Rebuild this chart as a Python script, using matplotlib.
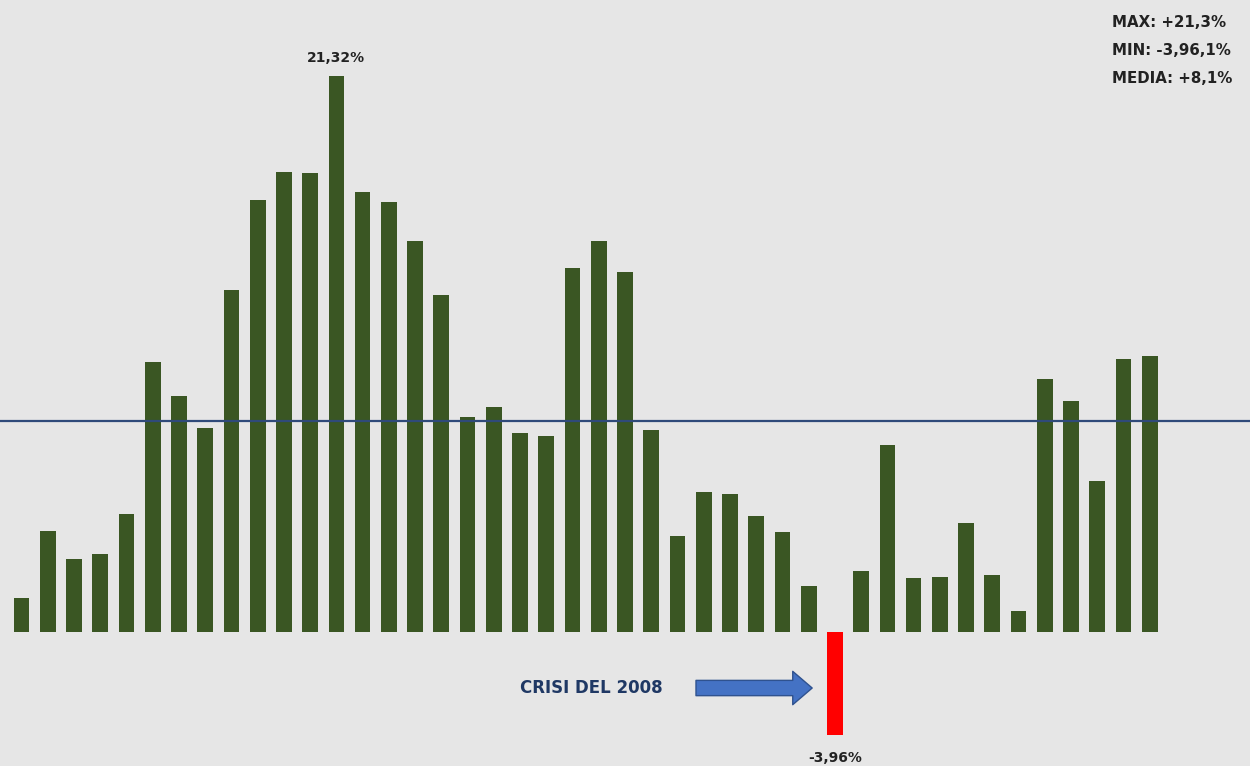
import matplotlib
matplotlib.use('Agg')
import matplotlib.pyplot as plt
from matplotlib.patches import FancyArrowPatch

# annual returns (%)
valori = [1.30, 3.87, 2.80, 2.99, 4.52, 10.35, 9.05, 7.82, 13.11, 16.56,
          17.64, 17.60, 21.32, 16.87, 16.49, 14.99, 12.92, 8.24, 8.63, 7.63,
          7.52, 13.96, 14.99, 13.80, 7.75, 3.68, 5.37, 5.29, 4.45, 3.83,
          1.76, -3.96, 2.34, 7.17, 2.07, 2.11, 4.18, 2.19, 0.81, 9.70,
          8.86, 5.79, 10.47, 10.58]
media = 8.1
info = ["MAX: +21,3%", "MIN: -3,96,1%", "MEDIA: +8,1%"]

verde = '#3a5623'
rosso = '#ff0000'
sfondo = '#e6e6e6'

fig = plt.figure(figsize=(12.5, 7.66), dpi=100)
fig.patch.set_facecolor(sfondo)
ax = fig.add_axes([0, 0, 1, 1])
ax.set_facecolor(sfondo)

x = list(range(len(valori)))
colori = [rosso if v < 0 else verde for v in valori]
ax.bar(x, valori, width=0.6, color=colori, zorder=2)

ax.axhline(media, color='#2f4a7a', lw=1.6, zorder=3)

ax.set_xlim(-0.82, 46.82)
ax.set_ylim(-5.14, 24.23)
ax.axis('off')

# etichette max / min
i_max = valori.index(max(valori))
i_min = valori.index(min(valori))
ax.annotate("21,32%", (i_max, valori[i_max]), xytext=(0, 8), textcoords='offset points',
            ha='center', va='bottom', fontsize=10, fontweight='bold', color='#222222')
ax.annotate("-3,96%", (i_min, valori[i_min]), xytext=(0, -11), textcoords='offset points',
            ha='center', va='top', fontsize=10, fontweight='bold', color='#222222')

# freccia crisi
freccia = FancyArrowPatch((25.6, -2.15), (30.24, -2.15),
                          arrowstyle='simple,head_length=14,head_width=24,tail_width=11',
                          facecolor='#4472c4', edgecolor='#2f528f', lw=1, zorder=4)
ax.add_patch(freccia)
ax.text(24.45, -2.15, "CRISI DEL 2008", ha='right', va='center', fontsize=12,
        fontweight='bold', color='#1f3864')

for k, t in enumerate(info):
    fig.text(0.8895, 0.970 - k * 0.0365, t, ha='left', va='center', fontsize=10.8,
             fontweight='bold', color='#222222')

fig.savefig('out.png', dpi=100, facecolor=sfondo)
